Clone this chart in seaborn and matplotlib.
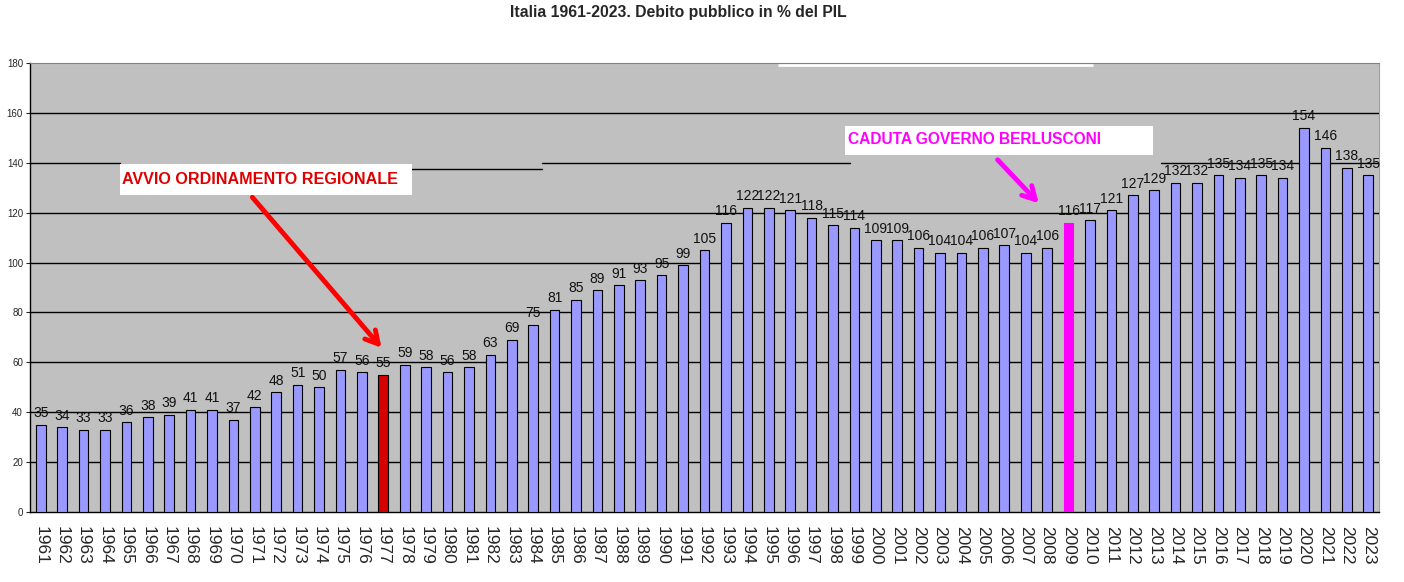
import matplotlib
matplotlib.use('Agg')
import matplotlib.pyplot as plt
from matplotlib.patches import Rectangle
import numpy as np
import pandas as pd
import seaborn as sns

# debito pubblico in % del PIL
years = list(range(1961, 2024))
debt = [35, 34, 33, 33, 36, 38, 39, 41, 41, 37,
        42, 48, 51, 50, 57, 56, 55, 59, 58, 56,
        58, 63, 69, 75, 81, 85, 89, 91, 93, 95,
        99, 105, 116, 122, 122, 121, 118, 115, 114, 109,
        109, 106, 104, 104, 106, 107, 104, 106, 116, 117,
        121, 127, 129, 132, 132, 135, 134, 135, 134, 154,
        146, 138, 135]
year_red = 1977
year_magenta = 2009
note_left = 'AVVIO ORDINAMENTO REGIONALE'
note_right = 'CADUTA GOVERNO BERLUSCONI'
title = 'Italia 1961-2023. Debito pubblico in % del PIL'

W, H = 1404, 582
fig = plt.figure(figsize=(W / 100, H / 100), dpi=100)
sns.set_style('white')
plt.rcParams['font.family'] = ['Liberation Sans', 'DejaVu Sans']


def fx(px):
    return px / W


def fy(py):
    return 1 - py / H


# axes box in pixels: x 30..1379, y 63..512
ax = fig.add_axes([fx(30), fy(512), (1379 - 30) / W, (512 - 63) / H])
ax.set_facecolor('#c0c0c0')

df = pd.DataFrame({'year': [str(y) for y in years], 'debt': debt})
pal = {}
for y in years:
    if y == year_red:
        pal[str(y)] = '#d40000'
    elif y == year_magenta:
        pal[str(y)] = '#ff00ff'
    else:
        pal[str(y)] = '#9999ff'
sns.barplot(data=df, x='year', y='debt', hue='year', palette=pal, legend=False,
            width=0.45, edgecolor='black', linewidth=0.8, saturation=1, ax=ax, zorder=3)
for p in ax.patches:
    if p.get_facecolor()[:3] == matplotlib.colors.to_rgb('#ff00ff'):
        p.set_edgecolor('#ff00ff')

ax.set_xlim(-0.5, len(years) - 0.5)
ax.set_ylim(0, 180)
ax.set_yticks(np.arange(0, 181, 20))
ax.tick_params(axis='y', labelsize=7, length=3, direction='out', left=True, pad=2)

# gridlines (the 140 one is broken in the original picture)
for g in range(20, 180, 20):
    if g == 140:
        continue
    ax.axhline(g, color='black', linewidth=1, zorder=1)
ax.plot([-0.5, 3.7], [140, 140], color='black', lw=1, zorder=1)
ax.plot([17.3, 23.4], [137.6, 137.6], color='black', lw=1, zorder=1)
ax.plot([23.4, 37.8], [140, 140], color='black', lw=1, zorder=1)
ax.plot([52.3, 62.5], [140, 140], color='black', lw=1, zorder=1)
ax.plot([34.5, 49.1], [179, 179], color='white', lw=2, zorder=2)

# x ticks: labels at centres, marks between categories
ax.set_xticks(range(len(years)))
ax.set_xticklabels([str(y) for y in years], rotation=270, fontsize=12.5)
ax.tick_params(axis='x', length=0, pad=10)
ax.set_xticks(np.arange(-0.5, len(years), 1), minor=True)
ax.tick_params(axis='x', which='minor', length=5, direction='out', color='black')
ax.set_xlabel('')
ax.set_ylabel('')

for s in ['left', 'bottom']:
    ax.spines[s].set_color('black')
    ax.spines[s].set_linewidth(1)
ax.spines['top'].set_color('#808080')
ax.spines['right'].set_color('#a0a0a0')

for i, v in enumerate(debt):
    ax.text(i, v + 1.8, f'{v}', ha='center', va='bottom', fontsize=10, color='#111111', zorder=4)

fig.text(fx(678), fy(12), title, ha='center', va='center', fontsize=11.3, fontweight='bold')

# white label boxes with the notes, text sized to the width seen in the original
fig.patches.append(Rectangle((fx(120), fy(195)), (412 - 120) / W, (195 - 164) / H,
                             transform=fig.transFigure, fc='white', ec='none', zorder=5))
fig.patches.append(Rectangle((fx(845), fy(155)), (1153 - 845) / W, (155 - 126) / H,
                             transform=fig.transFigure, fc='white', ec='none', zorder=5))
t1 = fig.text(fx(122), fy(179), note_left, color='#e00000', fontsize=13, fontweight='bold',
              ha='left', va='center', zorder=6)
t2 = fig.text(fx(848), fy(139), note_right, color='#ff00ff', fontsize=13, fontweight='bold',
              ha='left', va='center', zorder=6)
fig.canvas.draw()
r = fig.canvas.get_renderer()
for t, target in [(t1, 276), (t2, 255)]:
    w = t.get_window_extent(r).width
    t.set_fontsize(13 * target / w)

i_red = years.index(year_red)
i_mag = years.index(year_magenta)
ax.annotate('', xy=(i_red + 0.0, 65), xytext=(9.8, 127),
            arrowprops=dict(arrowstyle='->,head_length=0.9,head_width=0.5', color='#ff0000', lw=3.5),
            zorder=6)
ax.annotate('', xy=(i_mag - 1.3, 123), xytext=(44.6, 142),
            arrowprops=dict(arrowstyle='->,head_length=0.9,head_width=0.5', color='#ff00ff', lw=3.5),
            zorder=6)

fig.savefig('out.png', dpi=100, facecolor='white')
